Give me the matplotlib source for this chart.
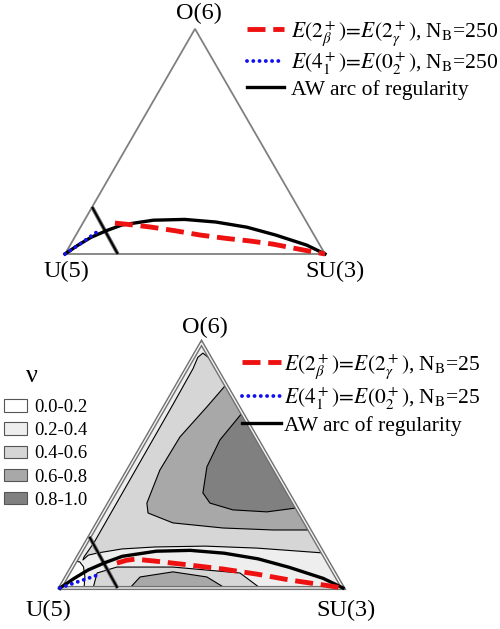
import numpy as np
import matplotlib
matplotlib.use("Agg")
import matplotlib.pyplot as plt
from matplotlib.patches import Polygon, Patch

plt.rcParams['font.family'] = ['Liberation Serif', 'DejaVu Serif']
plt.rcParams['mathtext.fontset'] = 'stix'

# ---------------- data (triangle coords: U(5)=(0,0), SU(3)=(1,0), O(6)=(0.5,0.866)) ----
vertex_labels = ["U(5)", "SU(3)", "O(6)"]
S3 = np.sqrt(3) / 2

# AW arc of regularity
arc_x = [0.0, 0.05, 0.10, 0.16, 0.22, 0.34, 0.46, 0.58, 0.70, 0.81, 0.93, 1.0]
arc_y = [0.0, 0.034, 0.064, 0.090, 0.112, 0.130, 0.133, 0.123, 0.103, 0.073, 0.034, 0.0]
# straight crossing line of the AW arc
cross_x = [0.104, 0.203]
cross_y = [0.181, 0.0]

# N_B = 250
red250_x = [0.192, 0.25, 0.327, 0.42, 0.519, 0.62, 0.712, 0.80, 0.877, 0.94, 1.0]
red250_y = [0.119, 0.113, 0.104, 0.090, 0.073, 0.060, 0.050, 0.038, 0.023, 0.011, 0.0]
blue250_x = [0.0, 0.06, 0.123]
blue250_y = [0.0, 0.040, 0.085]

# N_B = 25
red25_x = [0.201, 0.235, 0.265, 0.336, 0.459, 0.576, 0.696, 0.813, 0.929, 1.0]
red25_y = [0.088, 0.098, 0.102, 0.095, 0.081, 0.067, 0.049, 0.028, 0.011, 0.0]
blue25_x = [0.0, 0.06, 0.134]
blue25_y = [0.0, 0.021, 0.046]

# contour regions of nu (bottom panel)
nu_levels = ["0.0-0.2", "0.2-0.4", "0.4-0.6", "0.6-0.8", "0.8-1.0"]
nu_colors = ["#ffffff", "#eeeeee", "#d6d6d6", "#a8a8a8", "#808080"]

# 0.2 contour near U(5)
lo02_x = [0.0, 0.085, 0.088, 0.083, 0.070, 0.055]
lo02_y = [0.0, 0.0, 0.040, 0.075, 0.092, 0.095]
# 0.4 contour enclosing the upper region
up04_x = [0.535, 0.505, 0.487, 0.470, 0.40, 0.30, 0.20, 0.12, 0.085, 0.081, 0.10, 0.134, 0.219, 0.336, 0.512, 0.696, 0.928]
up04_y = [0.806, 0.830, 0.815, 0.775, 0.650, 0.475, 0.300, 0.160, 0.110, 0.099, 0.116, 0.124, 0.138, 0.145, 0.148, 0.141, 0.124]
# 0.6 contour (upper)
up06_x = [0.583, 0.519, 0.424, 0.353, 0.307, 0.311, 0.399, 0.576, 0.753, 0.882]
up06_y = [0.714, 0.640, 0.534, 0.417, 0.300, 0.265, 0.230, 0.212, 0.205, 0.205]
# 0.8 contour (upper)
up08_x = [0.643, 0.565, 0.519, 0.505, 0.530, 0.611, 0.731, 0.837]
up08_y = [0.618, 0.523, 0.428, 0.336, 0.300, 0.276, 0.269, 0.283]
# lower lobes
lo04_x = [0.117, 0.131, 0.201, 0.399, 0.636, 0.707]
lo04_y = [0.0, 0.053, 0.074, 0.074, 0.053, 0.0]
lo06_x = [0.247, 0.283, 0.399, 0.519, 0.583]
lo06_y = [0.0, 0.039, 0.057, 0.039, 0.0]

# ---------------- figure -------------------------------------------------------------
W, H = 500, 629
fig = plt.figure(figsize=(W / 100, H / 100), dpi=100)

def make_axes(top_px, bot_px, ux, uy, L):
    ax = fig.add_axes([0, 1 - bot_px / H, 1, (bot_px - top_px) / H])
    ax.set_xlim(-ux / L, (W - ux) / L)
    ax.set_ylim((uy - bot_px) / L, (uy - top_px) / L)
    ax.axis('off')
    return ax

def tri_edges(ax, double=False):
    tx = [0, 1, 0.5, 0]
    ty = [0, 0, S3, 0]
    if double:
        ax.plot(tx, ty, color='#707070', lw=3.0, zorder=6, solid_joinstyle='miter')
        ax.plot(tx, ty, color='#f4f4f4', lw=1.0, zorder=6, solid_joinstyle='miter')
    else:
        ax.plot(tx, ty, color='#808080', lw=1.3, zorder=6, solid_joinstyle='miter')

def curves(ax, rx, ry, bx, by, nb):
    ax.plot(cross_x, cross_y, color='#707070', lw=2.8, zorder=7, solid_capstyle='butt')
    ax.plot(cross_x, cross_y, color='black', lw=1.4, zorder=7, solid_capstyle='butt')
    l1, = ax.plot(rx, ry, color='#ee1111', lw=3.5, ls=(0, (3.7, 1.6)), zorder=8,
                  label=r'$E(2^+_\beta)\!=\!E(2^+_\gamma)$, N$_\mathrm{B}$=' + nb)
    l2, = ax.plot(bx, by, color='#1111ee', lw=2.8, ls=(0, (0.01, 1.6)),
                  dash_capstyle='round', zorder=9,
                  label=r'$E(4^+_1)\!=\!E(0^+_2)$, N$_\mathrm{B}$=' + nb)
    l3, = ax.plot(arc_x, arc_y, color='black', lw=2.4, zorder=7,
                  label='AW arc of regularity')
    return [l1, l2, l3]

# ---- top panel
ax1 = make_axes(0, 300, 65, 254, 260)
tri_edges(ax1)
h1 = curves(ax1, red250_x, red250_y, blue250_x, blue250_y, '250')
ax1.text(0.004, -0.069, vertex_labels[0], fontsize=17.5, ha='center', va='center')
ax1.text(1.04, -0.069, vertex_labels[1], fontsize=17.5, ha='center', va='center')
ax1.text(0.515, 0.927, vertex_labels[2], fontsize=17.5, ha='center', va='center')
fig.legend(handles=h1, loc='upper left', bbox_to_anchor=(247 / W, 1 - 19 / H),
           frameon=False, fontsize=15.5, handlelength=1.7, handletextpad=0.35,
           labelspacing=0.12, borderpad=0, borderaxespad=0)

# ---- bottom panel
ax2 = make_axes(300, 629, 60, 588, 283)
ax2.add_patch(Polygon(np.c_[[0, 1, 0.5], [0, 0, S3]], closed=True,
                      facecolor=nu_colors[1], edgecolor='none', zorder=1))

def region(xs, ys, c, z):
    ax2.add_patch(Polygon(np.c_[xs, ys], closed=True, facecolor=c,
                          edgecolor='none', zorder=z))
    ax2.plot(xs, ys, color='black', lw=0.8, zorder=z + 0.5)

region(lo02_x, lo02_y, nu_colors[0], 2)
region(up04_x, up04_y, nu_colors[2], 2)
ax2.add_patch(Polygon(np.c_[up04_x + [0.5], up04_y + [S3]], closed=True,
                      facecolor=nu_colors[2], edgecolor='none', zorder=2))
region(up06_x, up06_y, nu_colors[3], 3)
region(up08_x, up08_y, nu_colors[4], 4)
region(lo04_x, lo04_y, nu_colors[2], 2)
region(lo06_x, lo06_y, nu_colors[3], 3)

tri_edges(ax2, double=True)
h2 = curves(ax2, red25_x, red25_y, blue25_x, blue25_y, '25')
ax2.text(-0.04, -0.081, vertex_labels[0], fontsize=17.5, ha='center', va='center')
ax2.text(1.01, -0.081, vertex_labels[1], fontsize=17.5, ha='center', va='center')
ax2.text(0.512, 0.922, vertex_labels[2], fontsize=17.5, ha='center', va='center')
fig.legend(handles=h2, loc='upper left', bbox_to_anchor=(242 / W, 1 - 352 / H),
           frameon=False, fontsize=15.5, handlelength=1.8, handletextpad=0.15,
           labelspacing=0.2, borderpad=0, borderaxespad=0)

fig.text(32 / W, 1 - 376 / H, 'ν', fontsize=19, ha='center', va='center')
patches = [Patch(facecolor=c, edgecolor='#555555', lw=0.8) for c in nu_colors]
fig.legend(handles=patches, labels=nu_levels,
           loc='upper left', bbox_to_anchor=(4 / W, 1 - 399 / H), frameon=False,
           fontsize=13.5, handlelength=1.25, handleheight=0.65, handletextpad=0.35,
           labelspacing=0.33, borderpad=0, borderaxespad=0)

fig.savefig('out.png', dpi=100)
